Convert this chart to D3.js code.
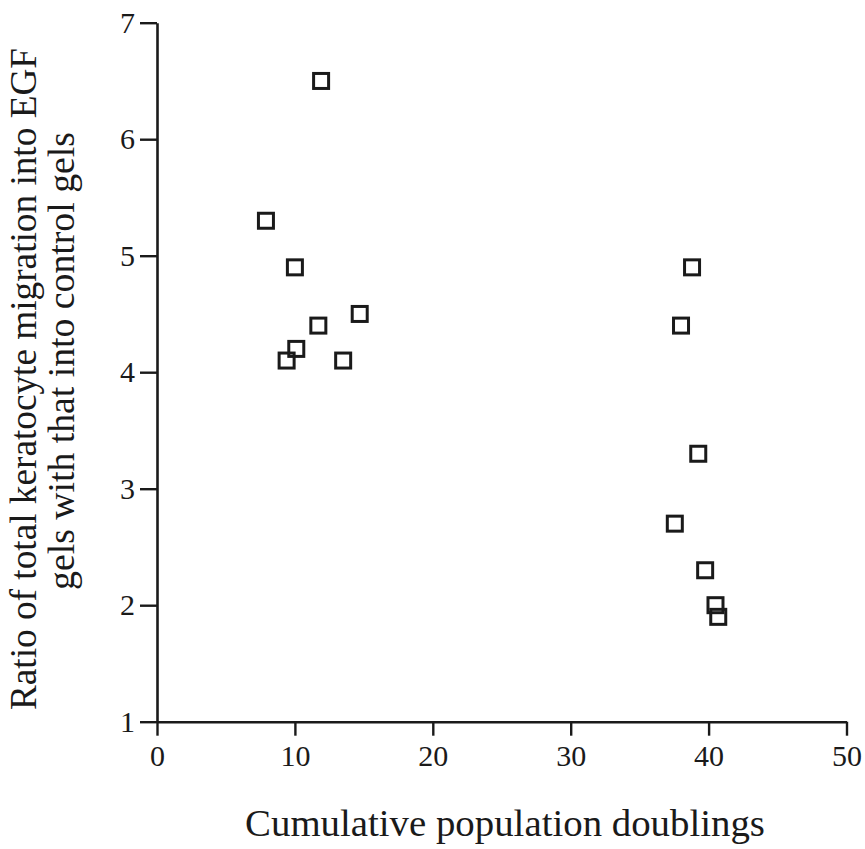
<!DOCTYPE html>
<html>
<head>
<meta charset="utf-8">
<script src="https://cdn.jsdelivr.net/npm/d3@7"></script>
<style>
  html, body { margin: 0; padding: 0; background: #fff; }
  svg { display: block; }
  .axis text { font-family: "Liberation Serif", "DejaVu Serif", serif; fill: #1a1a1a; }
  .title { font-family: "Liberation Serif", "DejaVu Serif", serif; fill: #1a1a1a; }
</style>
</head>
<body>
<svg id="chart" width="865" height="849"></svg>
<script>
// Cumulative population doublings of each keratocyte culture
const doublings = [11.9, 7.9, 10.0, 14.7, 11.7, 10.1, 9.4, 13.5,
                   38.8, 38.0, 39.25, 37.55, 39.75, 40.5, 40.7];
// Ratio of migration into EGF gels vs. control gels
const ratios = [6.5, 5.3, 4.9, 4.5, 4.4, 4.2, 4.1, 4.1,
                4.9, 4.4, 3.3, 2.7, 2.3, 2.0, 1.9];
const xTicks = [0, 10, 20, 30, 40, 50];
const yTicks = [1, 2, 3, 4, 5, 6, 7];
const xTitle = "Cumulative population doublings";
const yTitleLines = ["Ratio of total keratocyte migration into EGF",
                     "gels with that into control gels"];

const ink = "#1a1a1a";
const svg = d3.select("#chart");

const x = d3.scaleLinear().domain([0, 50]).range([157, 846.5]);
const y = d3.scaleLinear().domain([1, 7]).range([721.7, 22.7]);

// Y axis
const yAxis = svg.append("g")
  .attr("class", "axis")
  .attr("transform", `translate(${x(0)},0)`)
  .call(d3.axisLeft(y).tickValues(yTicks).tickFormat(d3.format("d"))
        .tickSize(17).tickSizeOuter(0).tickPadding(5));
// X axis
const xAxis = svg.append("g")
  .attr("class", "axis")
  .attr("transform", `translate(0,${y(1)})`)
  .call(d3.axisBottom(x).tickValues(xTicks).tickFormat(d3.format("d"))
        .tickSize(14).tickSizeOuter(0).tickPadding(9));

[yAxis, xAxis].forEach(g => {
  g.attr("font-size", null).attr("font-family", null);
  g.select(".domain").attr("stroke", ink).attr("stroke-width", 2.6);
  g.selectAll(".tick line").attr("stroke", ink).attr("stroke-width", 2.4);
  g.selectAll(".tick text").style("font-size", "30px");
});

// Data markers: open squares
svg.append("g")
  .selectAll("rect")
  .data(doublings.map((d, i) => [d, ratios[i]]))
  .join("rect")
  .attr("x", d => x(d[0]) - 7.5)
  .attr("y", d => y(d[1]) - 7.5)
  .attr("width", 15)
  .attr("height", 15)
  .attr("fill", "none")
  .attr("stroke", ink)
  .attr("stroke-width", 3);

// Fit a text element to a target width by adjusting its font size
function fitWidth(sel, target, start) {
  sel.style("font-size", start + "px");
  const w = sel.node().getComputedTextLength();
  sel.style("font-size", (start * target / w).toFixed(2) + "px");
}

// X title
const xt = svg.append("text")
  .attr("class", "title")
  .attr("x", (245 + 765) / 2)
  .attr("y", 836)
  .attr("text-anchor", "middle")
  .text(xTitle);
fitWidth(xt, 520, 30);

// Y title (two rotated lines)
const yt1 = svg.append("text")
  .attr("class", "title")
  .attr("transform", "translate(36,379) rotate(-90)")
  .attr("text-anchor", "middle")
  .text(yTitleLines[0]);
fitWidth(yt1, 662, 30);
const yt2 = svg.append("text")
  .attr("class", "title")
  .attr("transform", "translate(74,361) rotate(-90)")
  .attr("text-anchor", "middle")
  .text(yTitleLines[1]);
fitWidth(yt2, 458, 30);
</script>
</body>
</html>
